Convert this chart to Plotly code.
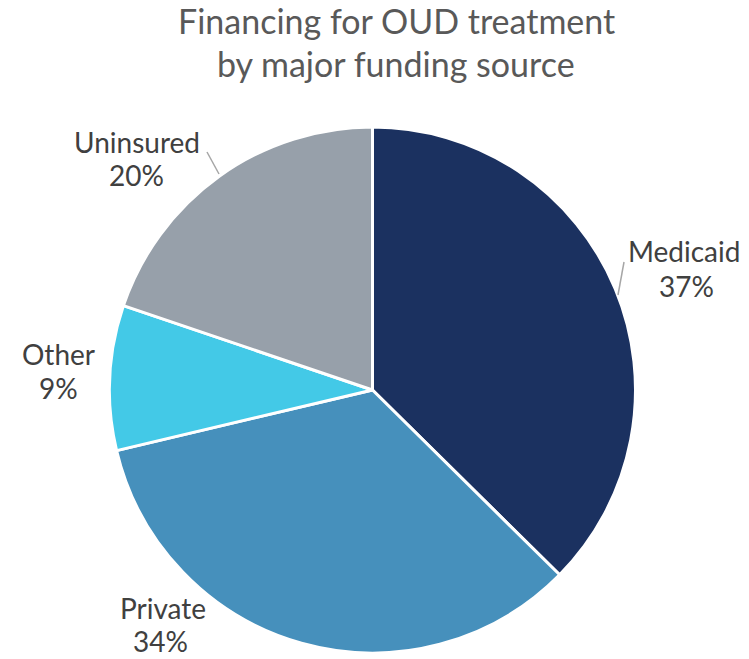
import plotly.graph_objects as go

labels = ["Medicaid", "Private", "Other", "Uninsured"]
values = [37.4, 33.9, 8.9, 19.8]
pct_text = ["37%", "34%", "9%", "20%"]
colors = ["#1B3160", "#4690BC", "#43C9E7", "#97A0AA"]
title_lines = ["Financing for OUD treatment", "by major funding source"]

W, H = 749, 659

# label placement (pixel centers of name line / percent line)
label_pos = {
    "Medicaid": ((684, 251), (686, 286)),
    "Private": ((163, 608), (160, 641)),
    "Other": ((58, 354), (58, 388)),
    "Uninsured": ((137, 142), (136, 175)),
}
leader_lines = {
    "Medicaid": ((618, 295), (624, 262)),
    "Uninsured": ((219, 174), (207, 152)),
}

def px(x, y):
    return x / W, 1 - y / H

fig = go.Figure(go.Pie(
    labels=labels,
    values=values,
    sort=False,
    direction="clockwise",
    rotation=0,
    marker=dict(colors=colors, line=dict(color="white", width=3)),
    textinfo="none",
    domain=dict(x=[109 / W, 636 / W], y=[6 / H, 532 / H]),
    showlegend=False,
    hoverinfo="label+percent",
))

annotations = []
for lab, pct in zip(labels, pct_text):
    (nx, ny), (vx, vy) = label_pos[lab]
    for txt, (x, y) in ((lab, (nx, ny)), (pct, (vx, vy))):
        ax_, ay_ = px(x, y)
        annotations.append(dict(
            text=txt, x=ax_, y=ay_, xref="paper", yref="paper",
            xanchor="center", yanchor="middle", showarrow=False,
            font=dict(family="Lato", size=28, color="#404040"),
        ))
for t, yc in zip(title_lines, [21, 63]):
    ax_, ay_ = px(396, yc)
    annotations.append(dict(
        text=t, x=ax_, y=ay_, xref="paper", yref="paper",
        xanchor="center", yanchor="middle", showarrow=False,
        font=dict(family="Lato", size=34, color="#595959"),
    ))

shapes = []
for lab, ((x0, y0), (x1, y1)) in leader_lines.items():
    a0, b0 = px(x0, y0)
    a1, b1 = px(x1, y1)
    shapes.append(dict(type="line", xref="paper", yref="paper",
                       x0=a0, y0=b0, x1=a1, y1=b1,
                       line=dict(color="#A6A6A6", width=1.5)))

fig.update_layout(
    width=W, height=H,
    margin=dict(l=0, r=0, t=0, b=0),
    paper_bgcolor="white",
    annotations=annotations,
    shapes=shapes,
)
fig.write_html("out.html",
               config={"displayModeBar": False},
               post_script="document.body.style.margin='0';document.body.style.overflow='hidden';")
